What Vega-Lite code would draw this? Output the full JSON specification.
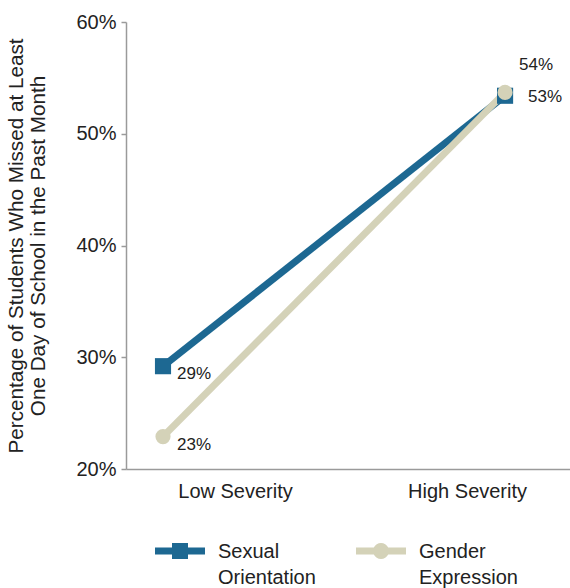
{
  "$schema": "https://vega.github.io/schema/vega-lite/v6.json",
  "autosize": "none",
  "width": 444,
  "height": 447,
  "padding": {"left": 126, "top": 22, "right": 0, "bottom": 119},
  "config": {"view": {"stroke": null}, "font": "Liberation Sans"},
  "data": {
    "values": [
      {"severity": "Low Severity", "group": "Sexual Orientation", "pct": 29.2, "label": "29%"},
      {"severity": "High Severity", "group": "Sexual Orientation", "pct": 53.4, "label": "53%"},
      {"severity": "Low Severity", "group": "Gender Expression", "pct": 22.9, "label": "23%"},
      {"severity": "High Severity", "group": "Gender Expression", "pct": 53.7, "label": "54%"}
    ]
  },
  "encoding": {
    "x": {
      "field": "severity",
      "type": "nominal",
      "sort": ["Low Severity", "High Severity"],
      "scale": {"type": "point", "padding": 0.149, "align": 0.363},
      "axis": {
        "title": null,
        "labelAngle": 0,
        "ticks": false,
        "domainColor": "#9a9a9a",
        "domainWidth": 1.5,
        "labelFontSize": 20,
        "labelColor": "#222222",
        "labelPadding": 12,
        "labelOffset": {"condition": {"test": "datum.value === 'Low Severity'", "value": 72}, "value": -38}
      }
    },
    "y": {
      "field": "pct",
      "type": "quantitative",
      "scale": {"domain": [20, 60]},
      "axis": {
        "values": [20, 30, 40, 50, 60],
        "labelExpr": "datum.value + '%'",
        "grid": false,
        "tickSize": 5,
        "tickColor": "#9a9a9a",
        "tickWidth": 1.5,
        "domainColor": "#9a9a9a",
        "domainWidth": 1.5,
        "labelFontSize": 20,
        "labelColor": "#222222",
        "labelPadding": 5,
        "title": ["Percentage of Students Who Missed at Least", "One Day of School in the Past Month"],
        "titleFontSize": 20.7,
        "titleFontWeight": "normal",
        "titleColor": "#222222",
        "titleLineHeight": 22,
        "titlePadding": 27
      }
    }
  },
  "layer": [
    {
      "mark": {"type": "line", "strokeWidth": 7},
      "encoding": {
        "color": {
          "field": "group",
          "type": "nominal",
          "sort": ["Sexual Orientation", "Gender Expression"],
          "scale": {"domain": ["Sexual Orientation", "Gender Expression"], "range": ["#1d6892", "#d4d2b8"]},
          "legend": {
            "orient": "none",
            "legendX": 29,
            "legendY": 504,
            "direction": "horizontal",
            "title": null,
            "symbolSize": 2500,
            "symbolStrokeWidth": 0,
            "symbolOpacity": 1,
            "labelFontSize": 20,
            "labelColor": "#222222",
            "labelOffset": 13,
            "columnPadding": 40,
            "labelExpr": "split(datum.label, ' ')",
            "labelBaseline": "alphabetic",
            "encode": {
              "labels": {"update": {"dy": {"value": 7}, "lineHeight": {"value": 26}}},
              "symbols": {"update": {"opacity": {"value": 1}}}
            }
          }
        }
      }
    },
    {
      "transform": [{"filter": "false"}],
      "mark": {"type": "point", "filled": true, "opacity": 1},
      "encoding": {
        "color": {"field": "group", "type": "nominal"},
        "shape": {
          "field": "group",
          "type": "nominal",
          "scale": {"domain": ["Sexual Orientation", "Gender Expression"], "range": ["M-1,-0.14H-0.32V-0.32H0.32V-0.14H1V0.14H0.32V0.32H-0.32V0.14H-1Z", "M-1,-0.14H-0.288A0.32,0.32 0 0 1 0.288,-0.14H1V0.14H0.288A0.32,0.32 0 0 1 -0.288,0.14H-1Z"]}
        }
      }
    },
    {
      "transform": [{"filter": "datum.group === 'Sexual Orientation'"}],
      "mark": {"type": "point", "filled": true, "opacity": 1, "shape": "square", "size": 260},
      "encoding": {"color": {"field": "group", "type": "nominal", "legend": null}}
    },
    {
      "transform": [{"filter": "datum.group === 'Gender Expression'"}],
      "mark": {"type": "point", "filled": true, "opacity": 1, "shape": "circle", "size": 230},
      "encoding": {"color": {"field": "group", "type": "nominal", "legend": null}}
    },
    {
      "transform": [{"filter": "datum.severity === 'Low Severity'"}],
      "mark": {"type": "text", "align": "left", "baseline": "middle", "dx": 14, "dy": 8, "fontSize": 17, "color": "#222222"},
      "encoding": {"text": {"field": "label"}}
    },
    {
      "transform": [{"filter": "datum.severity === 'High Severity' && datum.group === 'Gender Expression'"}],
      "mark": {"type": "text", "align": "left", "baseline": "middle", "dx": 14, "dy": -27, "fontSize": 17, "color": "#222222"},
      "encoding": {"text": {"field": "label"}}
    },
    {
      "transform": [{"filter": "datum.severity === 'High Severity' && datum.group === 'Sexual Orientation'"}],
      "mark": {"type": "text", "align": "left", "baseline": "middle", "dx": 23, "dy": 1, "fontSize": 17, "color": "#222222"},
      "encoding": {"text": {"field": "label"}}
    }
  ]
}
